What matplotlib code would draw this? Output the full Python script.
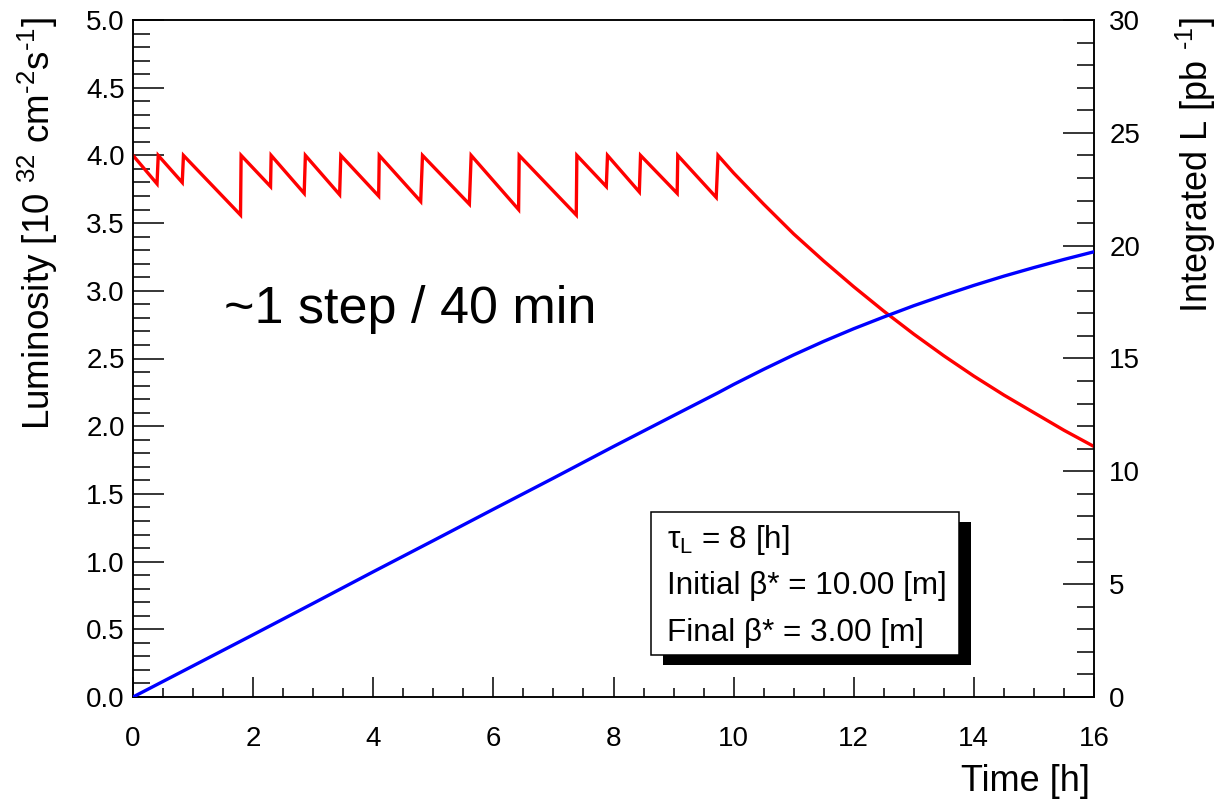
import matplotlib
matplotlib.use("Agg")
import matplotlib.pyplot as plt
from matplotlib.patches import Rectangle
from matplotlib.ticker import MultipleLocator, FormatStrFormatter

plt.rcParams['font.family'] = ['Liberation Sans', 'DejaVu Sans']
plt.rcParams['mathtext.fontset'] = 'custom'
plt.rcParams['mathtext.rm'] = 'Liberation Sans'
plt.rcParams['mathtext.it'] = 'Liberation Sans:italic'
plt.rcParams['mathtext.default'] = 'regular'

# Instantaneous luminosity [1e32 cm^-2 s^-1] vs time [h] (beta* levelling steps, then free decay)
lumi_time = [0.00, 0.40, 0.42, 0.82, 0.84, 1.79, 1.80, 2.29, 2.30, 2.85, 2.87,
             3.44, 3.46, 4.09, 4.10, 4.79, 4.82, 5.60, 5.63, 6.42, 6.43, 7.38,
             7.39, 7.88, 7.90, 8.43, 8.45, 9.06, 9.07, 9.71, 9.74,
             10.0, 10.5, 11.0, 11.5, 12.0, 12.5, 13.0, 13.5, 14.0, 14.5,
             15.0, 15.5, 16.0]
lumi_value = [4.00, 3.79, 4.00, 3.80, 4.00, 3.56, 4.00, 3.77, 4.00, 3.72, 4.00,
              3.71, 4.00, 3.70, 4.00, 3.66, 4.00, 3.64, 4.00, 3.60, 4.00, 3.56,
              4.00, 3.77, 4.00, 3.73, 4.00, 3.72, 4.00, 3.69, 4.00,
              3.87, 3.64, 3.42, 3.22, 3.03, 2.85, 2.68, 2.52, 2.37, 2.23,
              2.10, 1.97, 1.85]

# Integrated luminosity [pb^-1] vs time [h]
int_time = [0, 1, 2, 3, 4, 5, 6, 7, 8, 9, 9.74, 10.0, 10.5, 11.0, 11.5, 12.0,
            12.5, 13.0, 13.5, 14.0, 14.5, 15.0, 15.5, 16.0]
int_value = [0.0, 1.38, 2.76, 4.15, 5.55, 6.93, 8.32, 9.70, 11.10, 12.47, 13.48,
             13.85, 14.52, 15.16, 15.76, 16.32, 16.84, 17.34, 17.80, 18.24,
             18.65, 19.03, 19.39, 19.73]

info_lines = [r'τ$_{L}$ = 8 [h]', 'Initial β* = 10.00 [m]', 'Final β* = 3.00 [m]']
step_note = '~1 step / 40 min'

W, H = 1218, 800
def fx(px):
    return px / W
def fy(py):
    return 1 - py / H

fig = plt.figure(figsize=(W / 100, H / 100), dpi=100)
ax = fig.add_axes([fx(133), fy(697), fx(1094) - fx(133), fy(20) - fy(697)])
ax2 = ax.twinx()

ax.plot(lumi_time, lumi_value, color='#ff0000', lw=2.4, solid_joinstyle='miter', zorder=3)
ax2.plot(int_time, int_value, color='#0000ff', lw=2.4, zorder=3)

ax.set_xlim(0, 16)
ax.set_ylim(0, 5)
ax2.set_ylim(0, 30)

ax.xaxis.set_major_locator(MultipleLocator(2))
ax.xaxis.set_minor_locator(MultipleLocator(0.5))
ax.yaxis.set_major_locator(MultipleLocator(0.5))
ax.yaxis.set_minor_locator(MultipleLocator(0.1))
ax.yaxis.set_major_formatter(FormatStrFormatter('%.1f'))
ax2.yaxis.set_major_locator(MultipleLocator(5))
ax2.yaxis.set_minor_locator(MultipleLocator(1))

tick_fs = 20
ax.tick_params(axis='x', which='both', direction='in', top=False, labelsize=tick_fs,
               width=1.1, pad=21)
ax.tick_params(axis='x', which='major', length=14.5)
ax.tick_params(axis='x', which='minor', length=6.5)
ax.tick_params(axis='y', which='both', direction='in', right=False, labelsize=tick_fs,
               width=1.1, pad=6)
ax.tick_params(axis='y', which='major', length=22)
ax.tick_params(axis='y', which='minor', length=12)
ax2.tick_params(axis='y', which='both', direction='in', labelsize=tick_fs, width=1.1, pad=11)
ax2.tick_params(axis='y', which='major', length=22)
ax2.tick_params(axis='y', which='minor', length=12)

for a in (ax, ax2):
    for s in a.spines.values():
        s.set_linewidth(1.1)

# Axis titles, right/top aligned as in ROOT
fig.text(fx(50), fy(17), r'Luminosity [10 $^{32}$ cm$^{\text{-}2}$s$^{\text{-}1}$]', rotation=90,
         rotation_mode='anchor', ha='right', va='baseline', fontsize=26.5)
fig.text(fx(1208), fy(17), r'Integrated L [pb $^{\text{-}1}$]', rotation=90,
         rotation_mode='anchor', ha='right', va='baseline', fontsize=26)
fig.text(fx(1090), fy(791), 'Time [h]', ha='right', va='baseline', fontsize=26)

fig.text(fx(224), fy(323), step_note, ha='left', va='baseline', fontsize=37.5)

# Info box with drop shadow
bx0, by0, bx1, by1 = 651, 512, 959, 655
shadow = Rectangle((fx(bx0 + 12), fy(by1 + 10)), fx(bx1 - bx0), fy(by0) - fy(by1),
                   transform=fig.transFigure, facecolor='black', edgecolor='black',
                   lw=0, zorder=5)
box = Rectangle((fx(bx0), fy(by1)), fx(bx1 - bx0), fy(by0) - fy(by1),
                transform=fig.transFigure, facecolor='white', edgecolor='black',
                lw=1.1, zorder=6)
fig.add_artist(shadow)
fig.add_artist(box)
for line, base in zip(info_lines, [548, 594, 641]):
    fig.text(fx(667), fy(base), line, ha='left', va='baseline', fontsize=22.7, zorder=7)

fig.savefig('out.png', dpi=100)
